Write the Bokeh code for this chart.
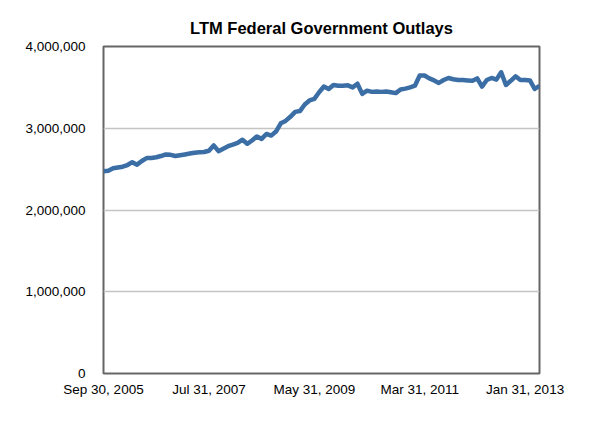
from bokeh.plotting import figure
from bokeh.models import Range1d, FixedTicker, NumeralTickFormatter, ColumnDataSource
from bokeh.embed import file_html
from bokeh.resources import INLINE

# Month-end dates (Sep 30, 2005 .. Apr 30, 2013), one value per month
tick_labels = ["Sep 30, 2005", "Jul 31, 2007", "May 31, 2009", "Mar 31, 2011", "Jan 31, 2013"]
tick_positions = [0, 22, 44, 66, 88]

outlays = [
    2475000, 2480000, 2510000, 2520000, 2530000, 2550000, 2585000, 2555000,
    2600000, 2635000, 2635000, 2645000, 2660000, 2680000, 2675000, 2660000,
    2670000, 2680000, 2690000, 2700000, 2705000, 2710000, 2725000, 2790000,
    2720000, 2750000, 2780000, 2800000, 2820000, 2860000, 2810000, 2850000,
    2900000, 2870000, 2930000, 2910000, 2960000, 3060000, 3090000, 3140000,
    3200000, 3210000, 3290000, 3340000, 3360000, 3440000, 3510000, 3480000,
    3530000, 3520000, 3520000, 3525000, 3500000, 3545000, 3420000, 3460000,
    3445000, 3450000, 3445000, 3450000, 3440000, 3430000, 3475000, 3485000,
    3500000, 3520000, 3645000, 3645000, 3610000, 3585000, 3555000, 3590000,
    3615000, 3600000, 3590000, 3590000, 3585000, 3580000, 3610000, 3510000,
    3590000, 3615000, 3595000, 3685000, 3530000, 3580000, 3635000, 3590000,
    3590000, 3585000, 3480000, 3520000,
]
month_index = list(range(len(outlays)))

source = ColumnDataSource(data=dict(x=month_index, y=outlays))

p = figure(width=600, height=420, output_backend="svg", toolbar_location=None,
           x_range=Range1d(0, len(outlays) - 1), y_range=Range1d(0, 4000000),
           min_border_left=103, min_border_right=61, min_border_top=46, min_border_bottom=47)

p.title.text = "LTM Federal Government Outlays"
p.title.align = "center"
p.title.text_font = "Liberation Sans"
p.title.text_font_style = "bold"
p.title.text_font_size = "16.5px"
p.title.text_color = "#000000"
p.title.standoff = 19
p.title.offset = 4

p.line("x", "y", source=source, line_color="#3b6ea5", line_width=4.5, line_join="round")

p.outline_line_color = "#666666"
p.outline_line_width = 2
p.outline_line_alpha = 1.0

p.xgrid.visible = False
p.ygrid.grid_line_color = "#c4c4c4"
p.ygrid.grid_line_width = 1.5

p.xaxis.ticker = FixedTicker(ticks=tick_positions)
p.xaxis.major_label_overrides = {pos: lab for pos, lab in zip(tick_positions, tick_labels)}
p.yaxis.ticker = FixedTicker(ticks=[0, 1000000, 2000000, 3000000, 4000000])
p.yaxis.formatter = NumeralTickFormatter(format="0,0")

for ax in (p.xaxis[0], p.yaxis[0]):
    ax.axis_line_color = None
    ax.major_tick_line_color = None
    ax.minor_tick_line_color = None
    ax.major_label_text_font = "Liberation Sans"
    ax.major_label_text_font_size = "13.5px"
    ax.major_label_text_color = "#000000"

p.xaxis.major_label_standoff = 2
p.yaxis.major_label_standoff = 12

p.background_fill_color = "white"
p.border_fill_color = "white"

open("out.html", "w").write(file_html(p, INLINE))
